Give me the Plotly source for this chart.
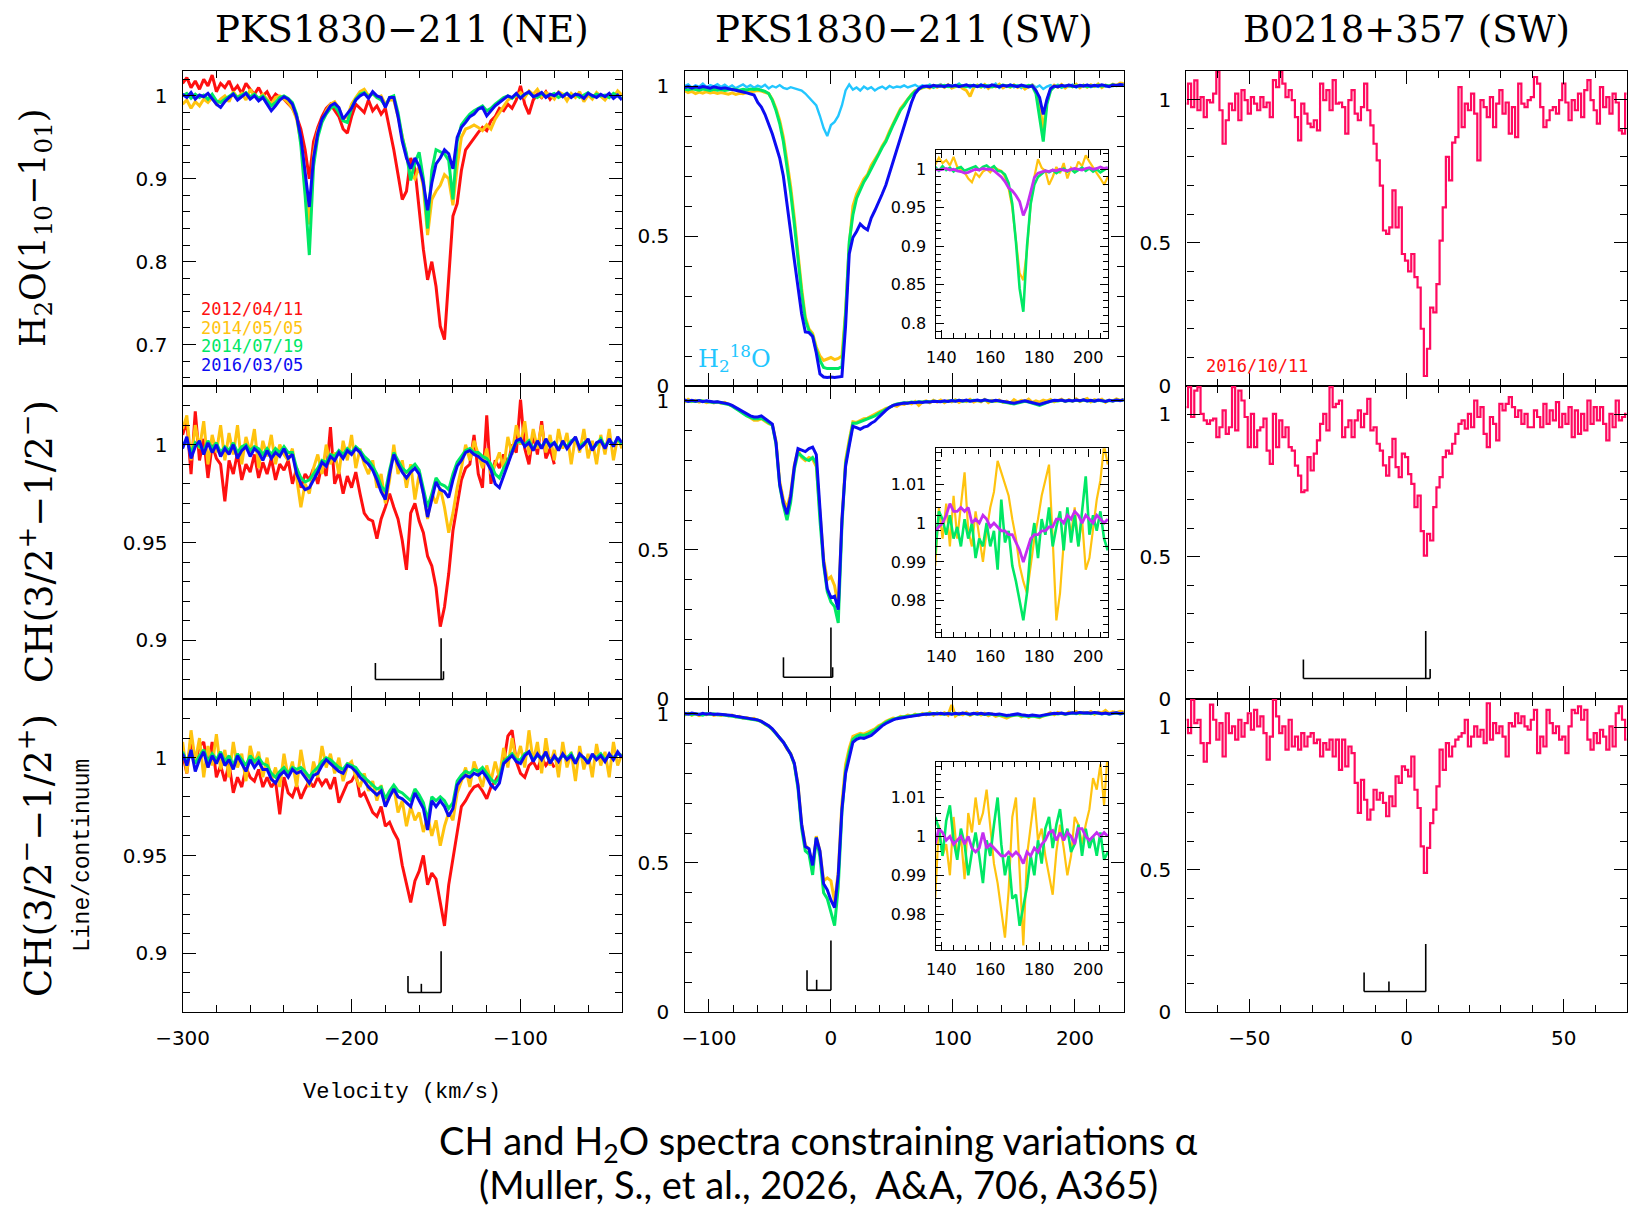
import numpy as np
import plotly.graph_objects as go

# page offset of the plot div inside the browser body (default 8 px margin)
OFF = 8
W, H = 1636 - OFF, 1212 - OFF

# ---------------- velocity grids (km/s) ----------------
v_ne = np.arange(-300, -39.9, 2.5)        # PKS1830-211 NE, 105 channels
v_ne_red = np.arange(-300, -79.9, 2.5)    # 2012 epoch coverage, 89 channels
v_sw = np.arange(-120, 240.1, 3.0)        # PKS1830-211 SW, 121 channels
v_in = np.arange(137.5, 208.1, 1.5)       # inset range, 48 channels
v_b = np.arange(-70, 70.1, 1.0)           # B0218+357, 141 channels

# ---------------- PKS1830-211 NE : H2O ----------------
ne_h2o_red = [1.015, 1.022, 1.010, 1.018, 1.008, 1.020, 1.012, 1.025, 1.005, 1.015,
              1.010, 1.018, 1.006, 1.012, 1.003, 1.015, 1.008, 1.002, 1.010, 1.000,
              1.005, 0.995, 1.002, 0.998, 0.996, 0.990, 0.985, 0.975, 0.960, 0.935,
              0.900, 0.945, 0.962, 0.975, 0.985, 0.990, 0.982, 0.975, 0.960, 0.955,
              0.975, 0.990, 0.985, 0.980, 0.995, 0.982, 0.988, 0.978, 0.985, 0.960,
              0.935, 0.905, 0.875, 0.885, 0.925, 0.912, 0.860, 0.815, 0.778, 0.800,
              0.770, 0.722, 0.706, 0.780, 0.855, 0.870, 0.910, 0.935, 0.942, 0.950,
              0.956, 0.962, 0.958, 0.970, 0.975, 0.985, 0.982, 0.990, 0.985, 0.995,
              1.012, 0.990, 0.978, 0.995, 1.002, 0.998, 1.005, 0.996, 1.003]
ne_h2o_gold = [0.990, 0.995, 0.985, 0.993, 0.988, 0.996, 0.992, 0.998, 0.990, 0.996,
               1.000, 0.993, 1.005, 0.998, 1.003, 0.995, 1.008, 1.000, 0.996, 1.002,
               0.996, 0.990, 0.998, 1.000, 0.996, 0.992, 0.985, 0.972, 0.945, 0.900,
               0.845, 0.930, 0.958, 0.970, 0.982, 0.990, 0.993, 0.985, 0.972, 0.975,
               0.990, 0.998, 1.005, 1.008, 1.000, 1.003, 0.998, 1.000, 0.990, 0.995,
               0.995, 0.975, 0.950, 0.928, 0.905, 0.900, 0.915, 0.890, 0.832, 0.875,
               0.885, 0.892, 0.905, 0.900, 0.868, 0.915, 0.950, 0.960, 0.962, 0.965,
               0.962, 0.958, 0.965, 0.960, 0.972, 0.980, 0.988, 0.995, 0.998, 1.000,
               1.004, 0.998, 1.006, 1.002, 1.008, 0.999, 1.004, 1.001, 0.996, 1.005,
               1.002, 0.994, 1.003, 0.998, 1.005, 0.993, 1.001, 0.996, 1.004, 0.999,
               0.995, 1.002, 0.998, 1.006, 1.001]
ne_h2o_green = [1.000, 1.003, 0.997, 1.002, 0.998, 1.001, 0.996, 1.002, 0.994, 0.992,
                0.996, 1.000, 1.003, 0.998, 1.001, 1.004, 0.999, 1.002, 0.997, 1.000,
                0.994, 0.988, 0.992, 0.998, 1.000, 0.997, 0.992, 0.978, 0.940, 0.880,
                0.808, 0.915, 0.950, 0.968, 0.978, 0.985, 0.988, 0.980, 0.970, 0.968,
                0.985, 0.996, 1.002, 1.004, 0.999, 1.003, 0.998, 0.995, 0.988, 0.998,
                1.000, 0.980, 0.950, 0.930, 0.898, 0.920, 0.932, 0.900, 0.840, 0.910,
                0.935, 0.932, 0.930, 0.922, 0.875, 0.945, 0.965, 0.972, 0.978, 0.982,
                0.985, 0.988, 0.982, 0.985, 0.990, 0.994, 0.998, 1.000, 0.997, 1.002,
                0.998, 1.002, 1.004, 1.000, 0.998, 1.003, 0.999, 1.001, 1.003, 0.998,
                1.001, 1.003, 0.999, 1.002, 0.998, 1.001, 1.004, 0.999, 1.002, 1.000,
                1.001, 0.998, 1.003, 1.000, 0.997]
ne_h2o_blue = [1.002, 0.998, 1.004, 0.996, 1.001, 0.999, 1.003, 0.997, 0.990, 0.986,
               0.993, 0.998, 1.002, 0.995, 0.999, 1.003, 0.996, 1.000, 0.994, 0.998,
               0.990, 0.982, 0.988, 0.995, 0.999, 0.996, 0.990, 0.975, 0.950, 0.905,
               0.866, 0.925, 0.955, 0.972, 0.980, 0.988, 0.991, 0.986, 0.972, 0.978,
               0.985, 0.995, 1.000, 1.003, 0.997, 1.005, 1.000, 0.998, 0.986, 0.998,
               0.998, 0.975, 0.945, 0.925, 0.912, 0.925, 0.915, 0.895, 0.862, 0.895,
               0.918, 0.925, 0.935, 0.930, 0.912, 0.950, 0.962, 0.968, 0.975, 0.978,
               0.984, 0.986, 0.976, 0.982, 0.988, 0.992, 0.996, 1.000, 0.998, 1.003,
               0.997, 1.002, 1.005, 0.999, 1.001, 1.004, 0.998, 1.002, 1.000, 1.004,
               0.999, 1.003, 0.998, 1.002, 1.001, 0.997, 1.003, 1.000, 0.998, 1.002,
               0.999, 1.003, 0.997, 1.001, 0.995]

# ---------------- PKS1830-211 NE : CH(3/2+ - 1/2-) ----------------
ne_ch1_red = [1.005, 1.012, 0.985, 1.017, 0.992, 1.003, 0.983, 1.000, 0.993, 0.990,
              0.971, 0.992, 0.985, 0.996, 0.982, 0.990, 0.986, 0.995, 0.983, 0.991,
              0.985, 0.993, 0.982, 0.990, 0.987, 0.992, 0.980, 0.988, 0.978, 0.985,
              0.982, 0.988, 0.980, 0.990, 0.984, 1.009, 0.980, 0.986, 0.975, 0.984,
              0.978, 0.986, 0.975, 0.965, 0.962, 0.961, 0.952, 0.962, 0.968, 0.975,
              0.968, 0.962, 0.951, 0.936, 0.965, 0.970, 0.961, 0.955, 0.943, 0.938,
              0.927, 0.907, 0.917, 0.934, 0.956, 0.968, 0.982, 0.988, 0.990, 1.005,
              0.985, 0.978, 1.015, 0.980, 0.992, 0.988, 0.995, 0.990, 1.000, 0.996,
              1.023, 0.998, 0.990, 1.006, 0.995, 1.012, 0.993, 0.998, 0.990]
ne_ch1_gold = [1.008, 1.015, 0.992, 1.010, 0.998, 1.012, 0.990, 1.005, 0.996, 1.010,
               0.992, 1.006, 0.995, 1.010, 0.990, 1.004, 0.996, 1.008, 0.988, 1.002,
               0.994, 1.005, 0.990, 1.000, 0.995, 0.992, 0.998, 0.982, 0.968, 0.980,
               0.975, 0.988, 0.995, 0.985, 1.000, 0.990, 0.996, 0.985, 1.002, 0.992,
               1.005, 0.988, 0.998, 0.990, 0.985, 0.992, 0.978, 0.985, 0.970, 0.982,
               1.000, 0.985, 0.992, 0.978, 0.990, 0.972, 0.985, 0.975, 0.962, 0.975,
               0.970, 0.978, 0.968, 0.955, 0.965, 0.978, 0.988, 1.000, 0.992, 1.002,
               0.995, 0.988, 0.998, 0.985, 0.990, 0.996, 0.988, 1.004, 0.995, 1.010,
               1.000, 1.012, 0.995, 1.008, 0.998, 1.010, 0.996, 1.005, 0.992, 1.008,
               0.998, 1.006, 0.990, 1.004, 0.996, 1.008, 0.993, 1.002, 0.990, 1.005,
               0.995, 1.008, 0.992, 1.004, 0.998]
ne_ch1_green = [1.000, 1.002, 0.996, 1.001, 0.999, 0.997, 1.002, 0.998, 1.001, 0.996,
                0.999, 0.997, 1.001, 0.996, 0.999, 1.000, 0.997, 0.999, 0.998, 0.995,
                0.998, 0.995, 0.998, 0.996, 0.999, 0.996, 0.996, 0.988, 0.983, 0.981,
                0.982, 0.985, 0.988, 0.992, 0.991, 0.995, 0.994, 0.997, 0.995, 0.998,
                0.996, 0.999, 0.997, 0.994, 0.992, 0.989, 0.985, 0.979, 0.976, 0.987,
                0.996, 0.992, 0.988, 0.986, 0.988, 0.990, 0.987, 0.978, 0.968, 0.975,
                0.983, 0.980, 0.979, 0.977, 0.985, 0.991, 0.994, 0.997, 0.998, 0.996,
                0.996, 0.994, 0.993, 0.990, 0.985, 0.983, 0.988, 0.992, 0.997, 1.001,
                1.002, 1.000, 1.002, 0.998, 1.001, 0.999, 1.002, 1.000, 1.001, 0.998,
                1.001, 0.999, 1.002, 1.003, 0.999, 1.001, 1.002, 0.998, 1.000, 1.003,
                0.999, 1.002, 1.000, 1.003, 1.000]
ne_ch1_blue = [0.998, 1.004, 0.993, 0.999, 1.002, 0.995, 1.001, 0.996, 1.000, 0.994,
               0.998, 0.995, 1.000, 0.993, 0.997, 0.999, 0.994, 0.998, 0.996, 0.992,
               0.997, 0.993, 0.996, 0.994, 0.998, 0.993, 0.995, 0.985, 0.980, 0.977,
               0.978, 0.982, 0.986, 0.991, 0.989, 0.994, 0.992, 0.996, 0.993, 0.997,
               0.995, 0.998, 0.996, 0.992, 0.990, 0.987, 0.982, 0.976, 0.972, 0.985,
               0.995, 0.990, 0.986, 0.983, 0.986, 0.988, 0.985, 0.975, 0.963, 0.972,
               0.981, 0.977, 0.976, 0.973, 0.982, 0.989, 0.992, 0.996, 0.997, 0.995,
               0.994, 0.992, 0.991, 0.987, 0.980, 0.978, 0.984, 0.990, 0.996, 1.002,
               1.003, 0.999, 1.001, 0.997, 1.002, 0.998, 1.003, 0.999, 1.001, 0.997,
               1.002, 0.998, 1.001, 1.004, 0.998, 1.000, 1.003, 0.997, 1.001, 1.002,
               0.998, 1.003, 0.999, 1.004, 1.001]

# ---------------- PKS1830-211 NE : CH(3/2- - 1/2+) ----------------
ne_ch2_red = [1.002, 0.992, 1.010, 0.998, 1.006, 1.008, 0.995, 1.008, 0.990, 0.996,
              0.988, 0.997, 0.982, 0.990, 0.985, 0.995, 0.990, 0.988, 0.994, 0.985,
              0.990, 0.985, 0.988, 0.971, 0.990, 0.982, 0.980, 0.986, 0.979, 0.984,
              0.988, 0.985, 0.990, 0.986, 0.989, 0.984, 0.990, 0.977, 0.982, 0.987,
              0.988, 0.992, 0.980, 0.982, 0.977, 0.972, 0.970, 0.975, 0.965, 0.967,
              0.962, 0.958, 0.945, 0.936, 0.926, 0.937, 0.942, 0.950, 0.935, 0.941,
              0.938, 0.926, 0.914, 0.935, 0.948, 0.962, 0.975, 0.978, 0.982, 0.985,
              0.986, 0.983, 0.979, 0.985, 0.988, 0.992, 0.997, 1.011, 1.014, 0.998,
              0.992, 0.990, 0.996, 0.998, 0.994, 1.000, 0.996, 0.999, 0.995]
ne_ch2_gold = [1.008, 0.992, 1.014, 0.998, 1.010, 0.990, 1.006, 0.996, 1.012, 0.994,
               1.004, 0.990, 1.008, 0.995, 1.002, 0.988, 1.006, 0.997, 1.003, 0.990,
               1.000, 0.988, 0.995, 0.985, 1.002, 0.990, 0.998, 0.985, 1.004, 0.992,
               0.985, 0.998, 0.990, 1.006, 0.995, 1.002, 0.992, 1.000, 0.988, 0.996,
               0.998, 0.990, 0.985, 0.992, 0.983, 0.988, 0.978, 0.986, 0.975, 0.982,
               0.985, 0.972, 0.978, 0.965, 0.975, 0.968, 0.972, 0.962, 0.970, 0.960,
               0.968, 0.955, 0.965, 0.972, 0.968, 0.982, 0.988, 0.995, 0.985, 0.998,
               0.992, 0.985, 0.996, 0.988, 0.998, 0.990, 1.005, 0.995, 1.010, 0.998,
               1.006, 0.995, 1.014, 0.998, 1.008, 0.992, 1.010, 0.996, 1.004, 0.990,
               1.008, 0.995, 1.003, 0.988, 1.006, 0.994, 1.002, 0.990, 1.007, 0.996,
               1.003, 0.990, 1.008, 0.996, 1.002]
ne_ch2_green = [1.003, 0.998, 1.002, 0.997, 1.001, 1.004, 0.998, 1.002, 0.999, 1.003,
                0.998, 1.001, 0.996, 1.002, 0.999, 0.996, 1.001, 0.998, 1.000, 0.997,
                0.996, 0.992, 0.990, 0.993, 0.995, 0.992, 0.995, 0.994, 0.995, 0.993,
                0.990, 0.993, 0.995, 0.998, 1.000, 0.999, 0.997, 0.995, 0.994, 0.997,
                0.996, 0.995, 0.992, 0.990, 0.988, 0.986, 0.984, 0.985, 0.979, 0.983,
                0.986, 0.983, 0.982, 0.980, 0.978, 0.984, 0.981, 0.977, 0.968, 0.980,
                0.978, 0.980, 0.978, 0.974, 0.977, 0.988, 0.991, 0.993, 0.992, 0.994,
                0.993, 0.995, 0.992, 0.989, 0.987, 0.990, 0.998, 1.000, 1.002, 0.999,
                0.999, 1.002, 1.003, 0.999, 1.001, 1.000, 1.002, 0.998, 1.000, 0.999,
                1.001, 1.000, 1.002, 0.998, 1.001, 1.000, 0.998, 1.001, 1.000, 1.002,
                0.999, 1.001, 1.000, 1.002, 1.001]
ne_ch2_blue = [1.002, 0.996, 1.004, 0.993, 0.999, 1.003, 0.995, 1.001, 0.997, 1.002,
               0.996, 0.999, 0.994, 1.001, 0.997, 0.993, 0.999, 0.995, 0.998, 0.994,
               0.994, 0.989, 0.987, 0.991, 0.993, 0.990, 0.994, 0.992, 0.993, 0.990,
               0.987, 0.991, 0.992, 0.996, 0.999, 0.997, 0.995, 0.993, 0.992, 0.996,
               0.995, 0.993, 0.990, 0.988, 0.985, 0.983, 0.981, 0.983, 0.975, 0.980,
               0.984, 0.980, 0.979, 0.977, 0.975, 0.982, 0.978, 0.974, 0.963, 0.978,
               0.975, 0.978, 0.975, 0.970, 0.974, 0.986, 0.989, 0.991, 0.990, 0.992,
               0.991, 0.993, 0.990, 0.986, 0.984, 0.987, 0.997, 0.999, 1.001, 0.998,
               0.997, 1.001, 1.003, 0.998, 1.002, 0.999, 1.003, 0.997, 1.001, 0.998,
               1.002, 0.999, 1.001, 0.997, 1.002, 1.000, 0.997, 1.002, 0.999, 1.001,
               0.998, 1.002, 0.999, 1.003, 1.000]

# ---------------- PKS1830-211 SW : H2O and H2-18O ----------------
sw_h2o_gold = [0.985, 0.978, 0.982, 0.975, 0.980, 0.976, 0.981, 0.977, 0.979, 0.975,
               0.978, 0.975, 0.973, 0.977, 0.972, 0.976, 0.974, 0.978, 0.980, 0.982,
               0.985, 0.983, 0.980, 0.975, 0.955, 0.925, 0.885, 0.830, 0.750, 0.665,
               0.560, 0.440, 0.325, 0.230, 0.190, 0.175, 0.130, 0.100, 0.085, 0.090,
               0.095, 0.088, 0.092, 0.100, 0.250, 0.470, 0.600, 0.640, 0.665, 0.690,
               0.705, 0.735, 0.755, 0.775, 0.800, 0.820, 0.850, 0.875, 0.900, 0.925,
               0.940, 0.958, 0.972, 0.985, 0.990, 0.995, 0.998, 0.993, 1.002, 0.996,
               1.003, 0.995, 1.004, 0.993, 0.998, 1.002, 0.992, 0.985, 0.965, 0.995,
               1.003, 0.996, 1.005, 0.992, 1.002, 0.997, 1.006, 0.994, 1.001, 0.996,
               1.004, 0.995, 1.002, 0.990, 0.998, 1.003, 0.985, 0.935, 0.855, 0.950,
               0.990, 1.003, 0.996, 1.005, 0.993, 1.002, 0.997, 1.006, 0.994, 1.003,
               0.996, 1.004, 0.998, 1.007, 0.995, 1.003, 0.999, 1.006, 1.002, 1.010, 1.008]
sw_h2o_green = [0.990, 0.987, 0.991, 0.988, 0.986, 0.990, 0.987, 0.985, 0.989, 0.986,
                0.988, 0.985, 0.987, 0.990, 0.988, 0.986, 0.989, 0.987, 0.990, 0.988,
                0.990, 0.986, 0.982, 0.975, 0.952, 0.918, 0.875, 0.815, 0.735, 0.645,
                0.540, 0.420, 0.310, 0.220, 0.185, 0.168, 0.120, 0.085, 0.062, 0.058,
                0.058, 0.060, 0.058, 0.065, 0.240, 0.480, 0.570, 0.625, 0.655, 0.680,
                0.700, 0.725, 0.750, 0.770, 0.795, 0.815, 0.845, 0.870, 0.895, 0.920,
                0.935, 0.955, 0.970, 0.982, 0.990, 0.996, 0.998, 1.000, 0.997, 1.001,
                0.999, 1.002, 0.998, 1.001, 0.999, 1.003, 1.000, 0.998, 1.002, 0.999,
                1.001, 0.998, 1.002, 1.000, 0.997, 1.001, 0.999, 1.003, 1.000, 0.998,
                1.002, 0.999, 1.001, 0.998, 1.002, 1.000, 0.975, 0.900, 0.815, 0.940,
                0.985, 0.998, 1.001, 0.997, 1.000, 1.002, 0.998, 1.001, 0.999, 1.002,
                0.998, 1.001, 1.000, 1.003, 0.999, 1.002, 1.000, 1.004, 1.001, 1.003, 1.002]
sw_h2o_blue = [0.995, 0.998, 0.993, 0.997, 0.994, 0.998, 0.996, 0.993, 0.997, 0.995,
               0.992, 0.994, 0.990, 0.988, 0.986, 0.984, 0.980, 0.977, 0.974, 0.970,
               0.945, 0.930, 0.905, 0.875, 0.840, 0.800, 0.760, 0.700, 0.600, 0.520,
               0.420, 0.330, 0.240, 0.180, 0.178, 0.165, 0.110, 0.040, 0.030, 0.028,
               0.030, 0.028, 0.030, 0.032, 0.200, 0.440, 0.495, 0.515, 0.540, 0.528,
               0.520, 0.560, 0.585, 0.610, 0.640, 0.670, 0.710, 0.745, 0.785, 0.830,
               0.870, 0.910, 0.945, 0.975, 0.990, 0.998, 1.000, 0.997, 1.002, 0.999,
               1.001, 0.998, 1.003, 0.999, 1.002, 0.998, 1.001, 1.004, 0.999, 1.002,
               0.998, 1.003, 1.000, 0.998, 1.004, 1.001, 0.997, 1.002, 0.999, 1.003,
               1.000, 0.998, 1.003, 1.000, 0.997, 1.001, 0.985, 0.962, 0.905, 0.955,
               0.992, 1.000, 0.997, 1.002, 0.999, 1.003, 1.001, 0.998, 1.002, 1.000,
               1.003, 0.999, 1.002, 1.000, 1.004, 1.001, 0.998, 1.003, 1.002, 1.005, 1.003]
sw_h218o = [1.000, 1.005, 0.995, 1.002, 0.998, 1.008, 0.996, 1.003, 0.999, 1.006,
            0.997, 1.004, 0.995, 1.002, 0.993, 1.000, 1.005, 0.996, 1.003, 0.994,
            1.001, 0.996, 1.004, 0.992, 1.000, 0.995, 1.003, 0.994, 0.990, 0.996,
            0.992, 0.988, 0.985, 0.975, 0.962, 0.950, 0.935, 0.900, 0.860, 0.833,
            0.870, 0.880, 0.900, 0.935, 0.985, 1.005, 0.988, 0.995, 0.985, 0.998,
            0.990, 0.996, 0.985, 0.993, 0.998, 0.990, 1.000, 0.994, 0.998, 0.996,
            1.002, 0.995, 0.999, 1.004, 0.996, 1.002, 0.998, 1.005, 0.994, 1.000,
            1.006, 0.995, 1.003, 0.993, 1.001, 1.008, 0.996, 1.002, 0.994, 1.004,
            0.998, 1.006, 0.995, 1.003, 0.999, 1.008, 0.994, 1.002, 0.997, 1.005,
            0.996, 1.003, 0.993, 1.001, 0.997, 1.005, 0.995, 1.002, 0.990, 0.998,
            1.003, 0.996, 1.004, 0.994, 1.001, 0.997, 1.005, 0.995, 1.002, 0.998,
            1.004, 0.996, 1.001, 0.997, 1.003, 0.998, 1.002, 0.999, 1.004, 1.001, 1.000]

# ---------------- PKS1830-211 SW : CH(3/2+ - 1/2-) ----------------
sw_ch1_gold = [0.995, 1.005, 0.998, 1.002, 0.996, 1.000, 0.994, 0.998, 0.993, 0.997,
               0.992, 0.995, 0.988, 0.984, 0.976, 0.968, 0.958, 0.950, 0.942, 0.935,
               0.935, 0.940, 0.932, 0.924, 0.920, 0.865, 0.730, 0.670, 0.640, 0.690,
               0.785, 0.835, 0.810, 0.800, 0.810, 0.805, 0.780, 0.610, 0.470, 0.400,
               0.410, 0.380, 0.310, 0.600, 0.800, 0.870, 0.930, 0.928, 0.935, 0.940,
               0.942, 0.948, 0.955, 0.962, 0.968, 0.975, 0.978, 0.985, 0.982, 0.990,
               0.988, 0.995, 0.990, 0.998, 0.985, 0.996, 1.000, 0.994, 1.002, 0.996,
               1.003, 0.994, 1.001, 0.997, 1.004, 0.995, 1.002, 0.998, 1.005, 0.996,
               1.001, 0.997, 1.005, 0.994, 1.002, 0.998, 1.003, 0.995, 0.999, 0.992,
               1.004, 0.996, 1.002, 0.998, 1.006, 0.995, 1.000, 0.996, 1.003, 0.999,
               1.005, 0.997, 1.002, 1.006, 0.998, 1.004, 0.999, 1.007, 0.998, 1.003,
               1.008, 0.997, 1.004, 1.001, 1.006, 0.995, 1.003, 1.000, 1.007, 1.002, 1.005]
sw_ch1_green = [1.001, 0.999, 1.000, 0.998, 1.001, 0.999, 0.998, 0.997, 0.995, 0.996,
                0.994, 0.992, 0.988, 0.982, 0.975, 0.966, 0.958, 0.950, 0.945, 0.940,
                0.940, 0.942, 0.935, 0.925, 0.918, 0.855, 0.715, 0.650, 0.600, 0.660,
                0.770, 0.825, 0.815, 0.805, 0.800, 0.810, 0.790, 0.600, 0.450, 0.360,
                0.325, 0.310, 0.255, 0.580, 0.790, 0.865, 0.925, 0.925, 0.930, 0.935,
                0.938, 0.945, 0.950, 0.958, 0.965, 0.972, 0.980, 0.985, 0.990, 0.992,
                0.994, 0.993, 0.996, 0.995, 0.997, 0.996, 0.998, 0.997, 0.999, 0.998,
                0.998, 1.000, 0.999, 1.001, 1.000, 1.002, 0.999, 1.001, 1.000, 1.002,
                1.002, 1.000, 1.003, 1.000, 0.998, 1.001, 0.999, 0.996, 0.993, 0.991,
                0.990, 0.993, 0.997, 0.999, 0.996, 0.992, 0.988, 0.985, 0.989, 0.994,
                0.999, 1.001, 1.000, 1.002, 0.999, 1.001, 1.000, 1.002, 1.000, 1.003,
                1.000, 1.001, 0.999, 1.002, 1.000, 0.998, 1.001, 1.000, 1.002, 1.001, 1.003]
sw_ch1_blue = [1.003, 0.998, 1.002, 0.999, 1.001, 0.997, 1.000, 0.998, 0.996, 0.997,
               0.995, 0.993, 0.990, 0.985, 0.978, 0.970, 0.963, 0.955, 0.950, 0.946,
               0.946, 0.950, 0.940, 0.930, 0.922, 0.860, 0.720, 0.657, 0.620, 0.680,
               0.780, 0.840, 0.835, 0.830, 0.840, 0.845, 0.820, 0.620, 0.460, 0.370,
               0.340, 0.345, 0.300, 0.600, 0.780, 0.850, 0.915, 0.910, 0.905, 0.912,
               0.915, 0.925, 0.932, 0.945, 0.958, 0.968, 0.978, 0.985, 0.988, 0.990,
               0.993, 0.992, 0.995, 0.994, 0.996, 0.995, 0.997, 0.996, 0.999, 0.998,
               0.997, 1.000, 0.998, 1.001, 0.999, 1.002, 1.000, 1.003, 0.999, 1.001,
               1.003, 1.000, 1.004, 1.001, 0.999, 1.002, 1.000, 0.998, 0.996, 0.994,
               0.992, 0.995, 0.998, 1.000, 0.997, 0.994, 0.990, 0.988, 0.992, 0.996,
               1.000, 1.002, 1.001, 1.003, 0.999, 1.002, 1.000, 1.003, 1.001, 1.004,
               1.000, 1.002, 0.999, 1.003, 1.001, 0.998, 1.002, 1.000, 1.003, 1.001, 1.004]

# ---------------- PKS1830-211 SW : CH(3/2- - 1/2+) ----------------
sw_ch2_gold = [0.996, 1.003, 0.995, 1.001, 0.994, 0.999, 0.997, 1.002, 0.995, 0.998,
               0.995, 0.998, 0.993, 0.996, 0.990, 0.992, 0.985, 0.988, 0.983, 0.985,
               0.978, 0.976, 0.965, 0.960, 0.946, 0.936, 0.918, 0.906, 0.882, 0.868,
               0.832, 0.765, 0.630, 0.560, 0.545, 0.480, 0.590, 0.540, 0.440, 0.450,
               0.440, 0.370, 0.470, 0.700, 0.830, 0.885, 0.925, 0.930, 0.935, 0.932,
               0.938, 0.943, 0.950, 0.960, 0.966, 0.975, 0.980, 0.986, 0.984, 0.992,
               0.990, 0.996, 0.993, 0.999, 0.994, 1.002, 0.997, 1.005, 0.996, 1.003,
               0.998, 1.004, 0.996, 1.030, 0.993, 1.002, 0.997, 1.005, 0.995, 1.001,
               1.004, 0.996, 1.002, 0.994, 1.000, 0.992, 0.995, 0.990, 0.986, 0.992,
               0.994, 0.998, 0.990, 0.996, 0.988, 0.995, 0.990, 0.987, 0.993, 0.999,
               1.003, 0.997, 1.005, 1.001, 0.998, 1.006, 1.002, 1.008, 1.000, 1.005,
               1.002, 1.008, 0.999, 1.006, 1.003, 1.012, 1.001, 1.007, 1.004, 1.009, 1.006]
sw_ch2_green = [0.998, 1.001, 0.997, 1.000, 0.999, 0.996, 1.001, 0.998, 1.000, 0.997,
                0.998, 0.996, 0.995, 0.993, 0.991, 0.989, 0.987, 0.985, 0.984, 0.982,
                0.979, 0.974, 0.967, 0.958, 0.948, 0.934, 0.920, 0.905, 0.886, 0.865,
                0.830, 0.750, 0.615, 0.540, 0.530, 0.460, 0.585, 0.520, 0.400, 0.380,
                0.335, 0.290, 0.420, 0.670, 0.810, 0.870, 0.915, 0.925, 0.930, 0.928,
                0.932, 0.938, 0.946, 0.955, 0.965, 0.972, 0.978, 0.983, 0.986, 0.989,
                0.990, 0.992, 0.994, 0.996, 0.998, 0.999, 1.000, 1.001, 1.000, 1.002,
                1.001, 0.999, 1.002, 1.000, 1.001, 0.999, 1.002, 1.000, 0.998, 1.001,
                0.999, 1.001, 0.998, 1.000, 0.999, 0.997, 0.998, 0.995, 0.992, 0.993,
                0.995, 0.997, 0.994, 0.993, 0.991, 0.993, 0.992, 0.990, 0.994, 0.997,
                0.999, 1.001, 1.000, 1.002, 0.999, 1.001, 1.003, 1.001, 1.004, 1.002,
                1.003, 1.001, 1.004, 1.002, 1.000, 1.002, 0.999, 1.001, 1.003, 1.000, 1.002]
sw_ch2_blue = [1.002, 0.999, 1.003, 1.000, 0.998, 1.002, 0.999, 1.001, 0.998, 1.000,
               0.999, 0.997, 0.996, 0.995, 0.992, 0.990, 0.988, 0.986, 0.985, 0.983,
               0.980, 0.975, 0.968, 0.960, 0.950, 0.935, 0.922, 0.905, 0.885, 0.865,
               0.835, 0.760, 0.630, 0.555, 0.548, 0.492, 0.585, 0.540, 0.430, 0.410,
               0.375, 0.350, 0.460, 0.680, 0.800, 0.855, 0.905, 0.915, 0.920, 0.918,
               0.922, 0.928, 0.938, 0.950, 0.960, 0.968, 0.975, 0.980, 0.984, 0.987,
               0.988, 0.990, 0.992, 0.994, 0.996, 0.998, 1.000, 0.999, 1.001, 1.000,
               1.002, 1.000, 1.001, 0.999, 1.002, 1.000, 1.003, 1.001, 0.999, 1.002,
               1.000, 1.002, 0.999, 1.001, 1.000, 0.998, 1.000, 0.997, 0.995, 0.996,
               0.998, 1.000, 0.997, 0.996, 0.994, 0.996, 0.995, 0.993, 0.996, 0.998,
               1.000, 1.002, 1.001, 1.003, 1.000, 1.002, 1.004, 1.002, 1.005, 1.003,
               1.004, 1.002, 1.005, 1.003, 1.001, 1.003, 1.000, 1.002, 1.004, 1.001, 1.003]

# ---------------- insets (PKS1830-211 SW, 140-208 km/s) ----------------
in_h2o_gold = [1.006, 1.015, 1.008, 1.012, 1.005, 1.016, 1.003, 1.000, 0.996, 0.988,
               0.983, 0.995, 0.990, 0.997, 1.000, 0.996, 1.003, 1.000, 0.998, 0.990,
               0.975, 0.950, 0.905, 0.865, 0.856, 0.895, 0.955, 0.990, 1.013, 1.002,
               0.998, 0.980, 0.990, 1.003, 0.995, 1.008, 0.988, 1.002, 0.997, 1.010,
               1.004, 1.018, 1.010, 1.002, 0.995, 0.988, 0.980, 0.990]
in_h2o_green = [1.003, 0.998, 1.004, 0.999, 1.002, 0.997, 1.001, 1.003, 0.998, 1.000,
                1.002, 1.004, 0.999, 1.003, 1.005, 1.001, 1.004, 0.998, 0.997, 0.993,
                0.982, 0.955, 0.905, 0.845, 0.815, 0.900, 0.955, 0.980, 0.990, 0.994,
                0.998, 0.996, 0.999, 0.995, 0.998, 1.001, 0.997, 1.000, 0.996, 0.999,
                1.002, 0.998, 1.001, 0.997, 1.000, 0.996, 0.999, 1.002]
in_h2o_mag = [1.000, 0.999, 1.000, 1.001, 0.999, 1.000, 0.998, 0.997, 0.995, 0.996,
              0.998, 1.000, 0.999, 1.001, 1.000, 1.000, 0.998, 0.994, 0.990, 0.984,
              0.976, 0.972, 0.966, 0.958, 0.940, 0.952, 0.972, 0.989, 0.995, 0.997,
              0.998, 0.997, 0.999, 0.998, 1.000, 0.999, 0.998, 1.000, 1.001, 1.000,
              0.999, 1.001, 1.002, 1.000, 1.001, 1.003, 1.001, 1.002]
in_ch1_gold = [0.989, 1.004, 0.996, 1.005, 0.994, 1.007, 0.996, 1.004, 1.013, 0.998,
               0.994, 1.003, 0.997, 0.990, 0.998, 1.004, 1.008, 1.016, 1.013, 1.010,
               1.007, 1.001, 0.996, 0.989, 0.985, 0.982, 0.989, 0.996, 1.001, 1.007,
               1.011, 1.015, 0.996, 0.975, 0.982, 0.995, 1.003, 0.997, 1.004, 0.994,
               1.001, 0.988, 0.991, 0.999, 1.006, 1.011, 1.020, 1.015]
in_ch1_green = [0.992, 1.003, 1.001, 0.997, 1.002, 0.996, 0.999, 0.994, 1.001, 0.996,
                1.000, 0.991, 0.996, 0.994, 1.000, 0.994, 0.998, 0.988, 1.006, 0.995,
                0.998, 0.989, 0.985, 0.980, 0.975, 0.982, 0.994, 1.000, 0.991, 1.001,
                0.997, 1.004, 0.994, 0.999, 1.003, 0.993, 1.004, 0.995, 1.002, 0.994,
                1.004, 1.012, 0.997, 1.002, 0.998, 1.003, 0.996, 0.993]
in_ch1_mag = [0.998, 0.999, 1.000, 1.002, 1.005, 1.003, 1.003, 1.004, 1.003, 1.004,
              1.000, 1.001, 1.000, 1.002, 1.001, 0.999, 1.000, 0.999, 0.998, 0.998,
              0.997, 0.997, 0.995, 0.993, 0.990, 0.993, 0.996, 0.997, 0.997, 0.998,
              0.998, 0.999, 0.999, 1.001, 1.001, 1.000, 1.002, 1.001, 1.003, 1.002,
              1.000, 1.002, 1.001, 1.000, 1.002, 1.001, 1.000, 1.001]
in_ch2_gold = [0.984, 1.003, 0.995, 0.998, 0.990, 1.005, 0.995, 1.000, 0.989, 1.006,
               1.001, 1.010, 1.003, 1.006, 1.012, 1.003, 0.993, 0.988, 0.981, 0.974,
               0.986, 1.005, 1.010, 0.990, 0.972, 0.995, 1.002, 1.010, 0.999, 1.002,
               0.995, 0.990, 0.985, 0.996, 1.003, 0.997, 0.990, 0.995, 1.005, 1.003,
               0.998, 1.003, 1.007, 1.015, 1.012, 1.0185, 1.008, 1.022]
in_ch2_green = [1.005, 1.002, 0.995, 1.004, 1.008, 0.999, 0.994, 1.002, 0.998, 0.990,
                0.996, 1.001, 0.995, 0.988, 0.999, 0.995, 1.003, 1.010, 0.998, 0.990,
                0.995, 0.984, 0.985, 0.977, 0.982, 0.987, 0.995, 0.990, 0.999, 0.993,
                1.002, 1.005, 0.997, 1.003, 1.007, 0.999, 1.002, 0.996, 0.998, 1.003,
                0.995, 1.002, 0.997, 1.000, 0.995, 1.001, 0.994, 0.996]
in_ch2_mag = [0.998, 1.002, 1.001, 0.999, 1.000, 0.998, 0.999, 1.000, 0.998, 1.000,
              0.997, 0.996, 0.997, 1.001, 0.997, 0.998, 0.997, 0.996, 0.995, 0.995,
              0.996, 0.995, 0.996, 0.995, 0.993, 0.996, 0.995, 0.997, 0.996, 0.998,
              0.999, 1.001, 1.0015, 0.999, 1.001, 0.999, 1.001, 1.000, 0.998, 1.002,
              1.002, 1.000, 0.999, 1.000, 1.001, 1.000, 1.001, 1.000]

# ---------------- B0218+357 SW ----------------
b_h2o = [0.986, 1.056, 0.974, 1.067, 0.963, 1.009, 0.939, 0.998, 0.990, 1.021,
         1.097, 0.963, 0.846, 0.928, 0.986, 0.963, 1.021, 0.928, 1.033, 0.998,
         0.951, 1.009, 0.986, 0.963, 1.009, 0.974, 0.990, 0.939, 1.068, 1.044,
         1.097, 1.056, 1.009, 1.033, 0.998, 0.939, 0.858, 0.986, 0.951, 0.916,
         0.904, 0.928, 0.893, 1.056, 0.998, 1.033, 0.963, 1.068, 0.986, 0.990,
         0.974, 0.881, 0.998, 1.033, 0.951, 0.928, 0.974, 1.056, 0.963, 0.910,
         0.846, 0.788, 0.700, 0.543, 0.531, 0.554, 0.683, 0.554, 0.624, 0.461,
         0.438, 0.400, 0.461, 0.380, 0.344, 0.200, 0.035, 0.130, 0.274, 0.257,
         0.356, 0.508, 0.624, 0.800, 0.718, 0.850, 0.869, 1.044, 0.904, 0.986,
         0.963, 1.021, 0.951, 0.788, 0.998, 0.974, 0.939, 1.009, 0.904, 0.986,
         1.033, 0.951, 0.990, 0.881, 0.974, 0.869, 1.056, 0.986, 0.974, 0.998,
         1.009, 1.079, 1.056, 0.974, 0.904, 0.928, 0.963, 0.974, 0.951, 0.998,
         1.056, 0.990, 0.928, 0.998, 0.963, 1.021, 0.939, 1.033, 1.068, 0.998,
         0.963, 0.916, 1.044, 0.974, 1.009, 0.951, 1.021, 0.990, 0.893, 0.881, 1.021]
b_ch1 = [1.026, 1.096, 0.991, 1.084, 1.096, 1.002, 0.979, 0.967, 0.979, 0.985,
         0.920, 0.955, 1.014, 0.932, 0.955, 1.096, 0.944, 1.084, 1.049, 0.991,
         0.885, 1.002, 0.885, 0.944, 0.955, 0.985, 0.873, 0.826, 1.002, 0.885,
         0.979, 0.920, 0.955, 0.885, 0.873, 0.820, 0.785, 0.727, 0.733, 0.850,
         0.803, 0.862, 0.909, 0.967, 1.002, 0.944, 1.096, 1.026, 1.037, 1.049,
         0.920, 0.955, 0.979, 0.920, 0.979, 1.014, 0.955, 1.002, 1.055, 0.944,
         0.955, 0.897, 0.873, 0.821, 0.785, 0.850, 0.914, 0.815, 0.780, 0.862,
         0.850, 0.790, 0.756, 0.674, 0.715, 0.590, 0.504, 0.580, 0.557, 0.674,
         0.744, 0.780, 0.850, 0.873, 0.862, 0.897, 0.932, 0.967, 0.979, 0.950,
         1.002, 0.955, 1.049, 0.991, 1.026, 0.932, 0.885, 0.991, 0.967, 0.909,
         1.037, 1.014, 1.037, 1.061, 1.026, 0.991, 1.014, 0.967, 1.002, 0.955,
         0.955, 1.014, 0.991, 0.955, 1.037, 0.967, 1.014, 0.979, 1.043, 0.955,
         1.002, 0.967, 1.026, 0.920, 1.014, 0.932, 1.002, 0.944, 1.049, 0.967,
         1.026, 0.979, 1.026, 0.967, 0.909, 1.002, 0.955, 1.049, 0.979, 0.991, 1.002]
b_ch2 = [1.027, 0.980, 1.097, 1.015, 1.027, 0.945, 0.880, 0.945, 1.080, 1.027,
         0.957, 1.015, 0.898, 1.050, 0.980, 1.004, 0.957, 1.027, 0.968, 1.015,
         1.050, 0.992, 1.062, 1.004, 1.039, 0.980, 0.887, 0.968, 1.097, 1.039,
         0.980, 1.004, 0.922, 1.027, 0.933, 0.968, 0.922, 0.980, 0.933, 0.968,
         0.980, 0.945, 0.957, 0.898, 0.945, 0.922, 0.957, 0.898, 0.957, 0.851,
         0.957, 0.863, 0.933, 0.910, 0.805, 0.700, 0.816, 0.746, 0.676, 0.711,
         0.781, 0.746, 0.770, 0.735, 0.688, 0.758, 0.723, 0.828, 0.805, 0.863,
         0.851, 0.828, 0.898, 0.781, 0.717, 0.582, 0.489, 0.577, 0.664, 0.711,
         0.793, 0.922, 0.851, 0.945, 0.898, 0.933, 0.957, 0.968, 0.980, 1.027,
         0.933, 0.968, 1.004, 0.968, 0.992, 0.945, 1.085, 0.957, 1.015, 0.980,
         1.004, 0.968, 0.898, 1.015, 1.004, 1.050, 1.015, 1.039, 1.004, 0.992,
         1.027, 1.062, 0.910, 0.968, 0.933, 1.062, 1.015, 0.980, 1.004, 0.957,
         0.968, 0.910, 1.004, 1.062, 1.050, 1.074, 1.027, 1.062, 0.957, 0.922,
         0.980, 0.945, 0.992, 0.968, 0.922, 1.004, 0.933, 1.050, 1.074, 1.027, 0.957]

# ---------------- CH hyperfine components ----------------
ch1_hfs_offset = [-38.9, 0.0, 1.4]     # km/s relative to main component
ch1_hfs_rel = [0.40, 1.0, 0.20]
ch2_hfs_offset = [-19.6, -11.7, 0.0]
ch2_hfs_rel = [0.40, 0.21, 1.0]
v_sys_ne, v_sys_sw, v_sys_b = -147.0, 0.0, 6.1

titles = ["PKS1830−211 (NE)", "PKS1830−211 (SW)", "B0218+357 (SW)"]
row_labels = ["H<sub>2</sub>O(1<sub>10</sub>−1<sub>01</sub>)",
              "CH(3/2<sup>+</sup>−1/2<sup>−</sup>)",
              "CH(3/2<sup>−</sup>−1/2<sup>+</sup>)"]
epochs = ["2012/04/11", "2014/05/05", "2014/07/19", "2016/03/05"]

# ---------------- sanity check ----------------
checks = {
    'ne_h2o_red': (ne_h2o_red, v_ne_red), 'ne_h2o_gold': (ne_h2o_gold, v_ne),
    'ne_h2o_green': (ne_h2o_green, v_ne), 'ne_h2o_blue': (ne_h2o_blue, v_ne),
    'ne_ch1_red': (ne_ch1_red, v_ne_red), 'ne_ch1_gold': (ne_ch1_gold, v_ne),
    'ne_ch1_green': (ne_ch1_green, v_ne), 'ne_ch1_blue': (ne_ch1_blue, v_ne),
    'ne_ch2_red': (ne_ch2_red, v_ne_red), 'ne_ch2_gold': (ne_ch2_gold, v_ne),
    'ne_ch2_green': (ne_ch2_green, v_ne), 'ne_ch2_blue': (ne_ch2_blue, v_ne),
    'sw_h2o_gold': (sw_h2o_gold, v_sw), 'sw_h2o_green': (sw_h2o_green, v_sw),
    'sw_h2o_blue': (sw_h2o_blue, v_sw), 'sw_h218o': (sw_h218o, v_sw),
    'sw_ch1_gold': (sw_ch1_gold, v_sw), 'sw_ch1_green': (sw_ch1_green, v_sw),
    'sw_ch1_blue': (sw_ch1_blue, v_sw), 'sw_ch2_gold': (sw_ch2_gold, v_sw),
    'sw_ch2_green': (sw_ch2_green, v_sw), 'sw_ch2_blue': (sw_ch2_blue, v_sw),
    'in_h2o_gold': (in_h2o_gold, v_in), 'in_h2o_green': (in_h2o_green, v_in),
    'in_h2o_mag': (in_h2o_mag, v_in), 'in_ch1_gold': (in_ch1_gold, v_in),
    'in_ch1_green': (in_ch1_green, v_in), 'in_ch1_mag': (in_ch1_mag, v_in),
    'in_ch2_gold': (in_ch2_gold, v_in), 'in_ch2_green': (in_ch2_green, v_in),
    'in_ch2_mag': (in_ch2_mag, v_in), 'b_h2o': (b_h2o, v_b),
    'b_ch1': (b_ch1, v_b), 'b_ch2': (b_ch2, v_b),
}
bad = [f"{k}: {len(a)} vs {len(v)}" for k, (a, v) in checks.items() if len(a) != len(v)]
if bad:
    raise SystemExit("length mismatch: " + "; ".join(bad))

# ---------------- styles ----------------
RED, GOLD, GREEN, BLUE = '#ff1010', '#ffc30f', '#00e865', '#0c0cf2'
CYAN, MAGENTA, PINK = '#22c6ff', '#c42ef0', '#ff0a5f'
TICKFONT = dict(family='DejaVu Sans', size=20, color='black')
INTICKFONT = dict(family='DejaVu Sans', size=16, color='black')
LW = 3.0

def px_x(a):
    return (a - OFF) / W

def px_y(a):
    return 1 - (a - OFF) / H

col_px = [(182.6, 621.9), (684.5, 1123.8), (1186.4, 1626.7)]
row_px = [(71, 386), (386, 699), (699, 1012)]
xcfg = [dict(range=[-300, -40], dtick=100, mdt=20),
        dict(range=[-120, 240], dtick=100, mdt=20),
        dict(range=[-70, 70], dtick=50, mdt=10)]

def ycfg(r, c):
    if c == 0:
        return dict(range=[0.65, 1.03], dtick=0.1, mdt=0.02) if r == 0 else \
            dict(range=[0.87, 1.03], dtick=0.05, mdt=0.01)
    if c == 1:
        return dict(range=[0, 1.05], dtick=0.5, mdt=0.1)
    return dict(range=[0, 1.1], dtick=0.5, mdt=0.1)

def axis(dom, rng, dtick, mdt, anchor, showlabels, font, tlen=13, mlen=7, standoff=8):
    return dict(domain=dom, range=rng, dtick=dtick, tick0=0, anchor=anchor,
                showline=True, linecolor='black', linewidth=1.4, mirror='ticks',
                ticks='inside', ticklen=tlen, tickwidth=1.4, tickcolor='black',
                showgrid=False, zeroline=False, showticklabels=showlabels,
                tickfont=font, ticklabelstandoff=standoff, automargin=False,
                minor=dict(dtick=mdt, tick0=0, ticks='inside', ticklen=mlen,
                           tickwidth=1.2, tickcolor='black', showgrid=False))

fig = go.Figure()
layout = {}

def name(p):
    return ('x', 'y') if p == 1 else (f'x{p}', f'y{p}')

for r in range(3):
    for c in range(3):
        p = r * 3 + c + 1
        xn, yn = name(p)
        xd = [px_x(col_px[c][0]), px_x(col_px[c][1])]
        yd = [px_y(row_px[r][1]), px_y(row_px[r][0])]
        xc, yc = xcfg[c], ycfg(r, c)
        layout['xaxis' if p == 1 else f'xaxis{p}'] = axis(
            xd, xc['range'], xc['dtick'], xc['mdt'], yn, r == 2, TICKFONT, standoff=8)
        layout['yaxis' if p == 1 else f'yaxis{p}'] = axis(
            yd, yc['range'], yc['dtick'], yc['mdt'], xn, True, TICKFONT, standoff=10)

# insets
in_px_x = (935.7, 1108.0)
in_px_y = [(150, 338), (448.3, 636.7), (761.7, 950)]
in_yr = [[0.781, 1.025], [0.9708, 1.0192], [0.9708, 1.0192]]
in_dt = [(0.05, 0.01), (0.01, 0.002), (0.01, 0.002)]
for k in range(3):
    p = 10 + k
    xn, yn = name(p)
    layout[f'xaxis{p}'] = axis([px_x(in_px_x[0]), px_x(in_px_x[1])], [137.7, 208.1], 20, 5,
                               yn, True, INTICKFONT, tlen=8, mlen=5, standoff=5)
    layout[f'yaxis{p}'] = axis([px_y(in_px_y[k][1]), px_y(in_px_y[k][0])], in_yr[k],
                               in_dt[k][0], in_dt[k][1], xn, True, INTICKFONT,
                               tlen=8, mlen=5, standoff=5)

def line(x, y, p, color, width=LW, shape='linear'):
    xn, yn = name(p)
    fig.add_trace(go.Scatter(x=list(x), y=y, mode='lines', xaxis=xn, yaxis=yn,
                             line=dict(color=color, width=width, shape=shape),
                             hoverinfo='skip', showlegend=False))

def hfs(v0, offs, rel, base, height, p):
    pos = [v0 + o for o in offs]
    xs = [min(pos), max(pos), None]
    ys = [base, base, None]
    for xx, rr in zip(pos, rel):
        xs += [xx, xx, None]
        ys += [base, base + rr * height, None]
    xn, yn = name(p)
    fig.add_trace(go.Scatter(x=xs, y=ys, mode='lines', xaxis=xn, yaxis=yn,
                             line=dict(color='black', width=1.6),
                             hoverinfo='skip', showlegend=False))

# left column
for p, (rd, gd, gr, bl) in zip([1, 4, 7], [
        (ne_h2o_red, ne_h2o_gold, ne_h2o_green, ne_h2o_blue),
        (ne_ch1_red, ne_ch1_gold, ne_ch1_green, ne_ch1_blue),
        (ne_ch2_red, ne_ch2_gold, ne_ch2_green, ne_ch2_blue)]):
    line(v_ne_red, rd, p, RED)
    line(v_ne, gd, p, GOLD)
    line(v_ne, gr, p, GREEN)
    line(v_ne, bl, p, BLUE)

# middle column
line(v_sw, sw_h218o, 2, CYAN, width=2.4)
for p, (gd, gr, bl) in zip([2, 5, 8], [
        (sw_h2o_gold, sw_h2o_green, sw_h2o_blue),
        (sw_ch1_gold, sw_ch1_green, sw_ch1_blue),
        (sw_ch2_gold, sw_ch2_green, sw_ch2_blue)]):
    line(v_sw, gd, p, GOLD)
    line(v_sw, gr, p, GREEN)
    line(v_sw, bl, p, BLUE)

# insets
for p, (gd, gr, mg) in zip([10, 11, 12], [
        (in_h2o_gold, in_h2o_green, in_h2o_mag),
        (in_ch1_gold, in_ch1_green, in_ch1_mag),
        (in_ch2_gold, in_ch2_green, in_ch2_mag)]):
    line(v_in, gd, p, GOLD, width=2.2)
    line(v_in, gr, p, GREEN, width=2.6)
    line(v_in, mg, p, MAGENTA, width=2.8)

# right column
for p, s in zip([3, 6, 9], [b_h2o, b_ch1, b_ch2]):
    line(v_b, s, p, PINK, width=2.2, shape='hvh')

# hyperfine brackets
hfs(v_sys_ne, ch1_hfs_offset, ch1_hfs_rel, 0.880, 0.021, 4)
hfs(v_sys_ne, ch2_hfs_offset, ch2_hfs_rel, 0.880, 0.021, 7)
hfs(v_sys_sw, ch1_hfs_offset, ch1_hfs_rel, 0.073, 0.167, 5)
hfs(v_sys_sw, ch2_hfs_offset, ch2_hfs_rel, 0.073, 0.167, 8)
hfs(v_sys_b, ch1_hfs_offset, ch1_hfs_rel, 0.072, 0.167, 6)
hfs(v_sys_b, ch2_hfs_offset, ch2_hfs_rel, 0.072, 0.167, 9)

ann = []
SERIF = 'DejaVu Serif'
for c in range(3):
    ann.append(dict(text=titles[c], x=px_x((col_px[c][0] + col_px[c][1]) / 2), y=px_y(29),
                    font=dict(family=SERIF, size=37, color='black')))
for r, (yc, fs) in enumerate([(228, 35), (542, 37), (856, 37)]):
    ann.append(dict(text=row_labels[r], x=px_x(36), y=px_y(yc), textangle=-90,
                    font=dict(family=SERIF, size=fs, color='black')))
ann.append(dict(text="Line/continuum", x=px_x(83), y=px_y(856), textangle=-90,
                font=dict(family='Liberation Mono', size=23, color='black')))
ann.append(dict(text="Velocity (km/s)", x=px_x(402), y=px_y(1092),
                font=dict(family='Liberation Mono', size=22, color='black')))
for txt, col, yy in zip(epochs, [RED, GOLD, GREEN, BLUE], [309, 328, 346, 365]):
    ann.append(dict(text=txt, x=px_x(199), y=px_y(yy), xanchor='left',
                    font=dict(family='DejaVu Sans Mono', size=17, color=col)))
ann.append(dict(text="2016/10/11", x=px_x(1204), y=px_y(366), xanchor='left',
                font=dict(family='DejaVu Sans Mono', size=17, color='#ff1010')))
ann.append(dict(text="H<sub>2</sub><sup>18</sup>O", x=px_x(696), y=px_y(358), xanchor='left',
                font=dict(family=SERIF, size=24, color=CYAN)))
ann.append(dict(text="CH and H<sub>2</sub>O spectra constraining variations α",
                x=px_x(818), y=px_y(1143), font=dict(family='Lato', size=38, color='black')))
ann.append(dict(text="(Muller, S., et al., 2026,  A&amp;A, 706, A365)",
                x=px_x(818), y=px_y(1184), font=dict(family='Lato', size=38, color='black')))
for a in ann:
    a.update(xref='paper', yref='paper', showarrow=False)
    a.setdefault('xanchor', 'center')
    a.setdefault('yanchor', 'middle')

fig.update_layout(width=W, height=H,
                  margin=dict(l=0, r=0, t=0, b=0, pad=0, autoexpand=False),
                  paper_bgcolor='white', plot_bgcolor='white', showlegend=False,
                  annotations=ann, **layout)

fig.write_html("out.html")
